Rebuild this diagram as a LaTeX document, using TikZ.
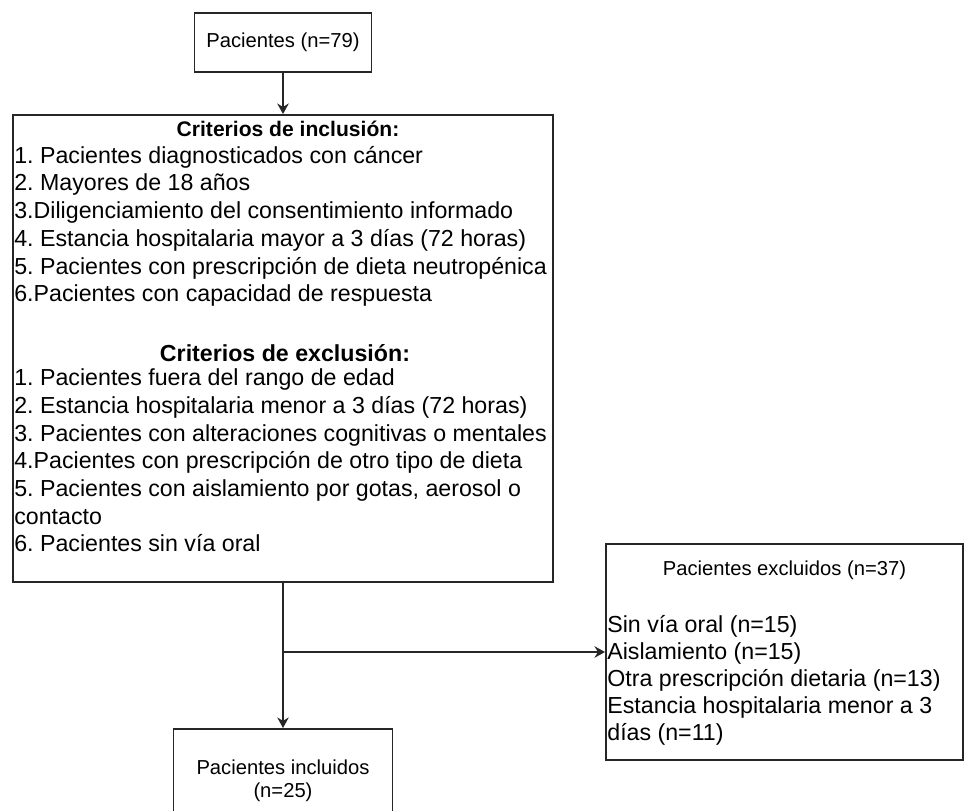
\documentclass[tikz,border=0pt]{standalone}
\usepackage{fontspec}
\setmainfont{Liberation Sans}
\usetikzlibrary{arrows.meta,positioning}
\frenchspacing

\begin{document}
\begin{tikzpicture}[
    x=0.02cm, y=-0.02cm,
    every node/.style={font=\fontsize{13.2}{15.76}\selectfont, inner sep=0pt},
    box/.style={draw=black!85, line width=1.1pt},
    small/.style={font=\fontsize{11.5}{13.2}\selectfont},
    head/.style={font=\bfseries\fontsize{13.2}{15.76}\selectfont},
    arrow/.style={draw=black!85, line width=1.1pt, -{Stealth[length=6pt,width=6.5pt]}}
]
\useasboundingbox (0,0) rectangle (970,811);

% cajas
\node[box, small, minimum width=3.54cm, minimum height=1.18cm] (total) at (283,42.5) {Pacientes (n=79)};
\node[box, minimum width=10.8cm, minimum height=9.34cm] (crit) at (283,348.5) {};
\node[box, minimum width=7.14cm, minimum height=4.32cm] (excl) at (784.5,652) {};
\node[box, small, align=center, anchor=north, minimum width=4.38cm, minimum height=2.06cm] (incl) at (283,728) {Pacientes incluidos\\(n=25)};

% criterios (ancla en la ultima linea)
\node[head, font=\bfseries\fontsize{12}{14}\selectfont, anchor=base] (inchead) at (288,136) {Criterios de inclusión:};
\node[align=left, anchor=base west] (inclist) at (14,301.7) {1. Pacientes diagnosticados con cáncer\\
2. Mayores de 18 años\\
3.Diligenciamiento del consentimiento informado\\
4. Estancia hospitalaria mayor a 3 días (72 horas)\\
5. Pacientes con prescripción de dieta neutropénica\\
6.Pacientes con capacidad de respuesta};

\node[head, anchor=base] (exchead) at (285,361) {Criterios de exclusión:};
\node[align=left, anchor=base west] (exclist) at (14,551.8) {1. Pacientes fuera del rango de edad\\
2. Estancia hospitalaria menor a 3 días (72 horas)\\
3. Pacientes con alteraciones cognitivas o mentales\\
4.Pacientes con prescripción de otro tipo de dieta\\
5. Pacientes con aislamiento por gotas, aerosol o\\
contacto\\
6. Pacientes sin vía oral};

% excluidos
\node[small, anchor=base] (exctitle) at (784.5,575) {Pacientes excluidos (n=37)};
\node[align=left, anchor=base west, font=\fontsize{13.2}{15.3}\selectfont] (exctext) at (607,740) {Sin vía oral (n=15)\\
Aislamiento (n=15)\\
Otra prescripción dietaria (n=13)\\
Estancia hospitalaria menor a 3\\
días (n=11)};

% flechas
\draw[arrow] (total.south) -- (crit.north);
\draw[arrow] (crit.south) -- (incl.north);
\coordinate (split) at (crit.south |- excl.west);
\draw[arrow] (split) -- (excl.west);

\end{tikzpicture}
\end{document}
